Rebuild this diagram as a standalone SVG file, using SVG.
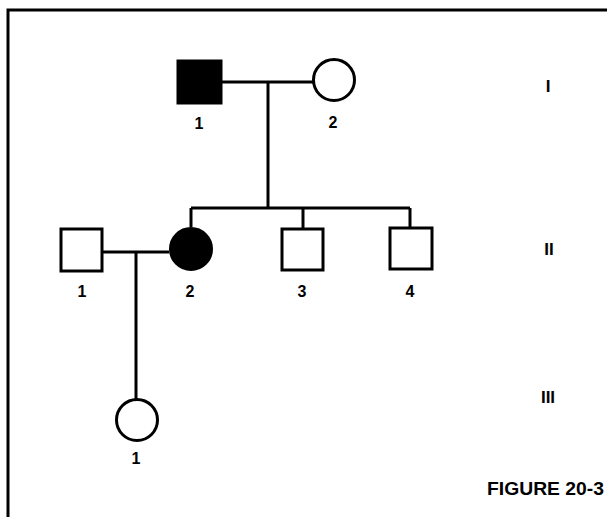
<svg xmlns="http://www.w3.org/2000/svg" width="607" height="517" viewBox="0 0 607 517">
<style>
.ln{stroke:#000;stroke-width:3;fill:none}
.open{fill:#fff;stroke:#000;stroke-width:3}
.aff{fill:#000;stroke:#000;stroke-width:3}
.lbl{font-family:"Liberation Sans",Arial,sans-serif;font-weight:bold;font-size:16px;text-anchor:middle;fill:#000}
.gen{font-family:"Liberation Sans",Arial,sans-serif;font-weight:bold;font-size:17px;text-anchor:middle;fill:#000}
.fig{font-family:"Liberation Sans",Arial,sans-serif;font-weight:bold;font-size:19px;fill:#000}
</style>
<rect width="607" height="517" fill="#fff"/>
<g id="border"><path class="ln" d="M8,517 V10 H607"/></g>
<g id="connectors">
<path class="ln" d="M222,82 H313"/>
<path class="ln" d="M268,82 V208"/>
<path class="ln" d="M191,208 H410"/>
<path class="ln" d="M191,208 V227"/>
<path class="ln" d="M303,208 V228"/>
<path class="ln" d="M410,208 V227"/>
<path class="ln" d="M103,252 H169"/>
<path class="ln" d="M136,252 V399"/>
</g>
<g id="I-1"><rect class="aff" x="178" y="61" width="43" height="42"/><text class="lbl" x="199" y="129">1</text></g>
<g id="I-2"><circle class="open" cx="334" cy="80" r="20.5"/><text class="lbl" x="333" y="128">2</text></g>
<g id="II-1"><rect class="open" x="61" y="229" width="41" height="42"/><text class="lbl" x="82" y="297">1</text></g>
<g id="II-2"><circle class="aff" cx="191" cy="249" r="20.5"/><text class="lbl" x="190" y="297">2</text></g>
<g id="II-3"><rect class="open" x="282" y="229" width="41" height="41"/><text class="lbl" x="302" y="297">3</text></g>
<g id="II-4"><rect class="open" x="390" y="228" width="42" height="41"/><text class="lbl" x="410" y="297">4</text></g>
<g id="III-1"><circle class="open" cx="137" cy="420" r="20.5"/><text class="lbl" x="136" y="464">1</text></g>
<g id="labels">
<text class="gen" x="548" y="92">I</text>
<text class="gen" x="549" y="255">II</text>
<text class="gen" x="548" y="403">III</text>
<text class="fig" x="487" y="495" textLength="117" lengthAdjust="spacingAndGlyphs">FIGURE 20-3</text>
</g>
</svg>
